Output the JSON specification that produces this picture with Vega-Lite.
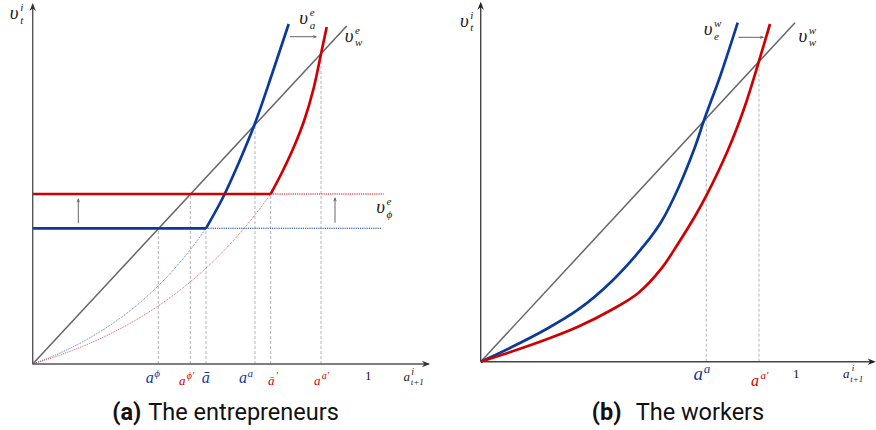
{
"$schema": "https://vega.github.io/schema/vega-lite/v6.json",
"padding": 0,
"spacing": 0,
"background": "white",
"config": {"view": {"stroke": null}},
"data": {"values": [
{"p":"a","k":"diag","id":"w","s":"neutral","x":0,"y":0},
{"p":"a","k":"diag","id":"w","s":"neutral","x":314,"y":338},
{"p":"a","k":"val","id":"hi","s":"initial","x":0,"y":135.7},
{"p":"a","k":"val","id":"hi","s":"initial","x":173.3,"y":135.7},
{"p":"a","k":"val","id":"ci","s":"initial","x":173.3,"y":135.7},
{"p":"a","k":"val","id":"ci","s":"initial","x":190,"y":166},
{"p":"a","k":"val","id":"ci","s":"initial","x":206,"y":201},
{"p":"a","k":"val","id":"ci","s":"initial","x":222.3,"y":240.7},
{"p":"a","k":"val","id":"ci","s":"initial","x":239,"y":289},
{"p":"a","k":"val","id":"ci","s":"initial","x":256,"y":340},
{"p":"a","k":"val","id":"hs","s":"shifted","x":0,"y":170},
{"p":"a","k":"val","id":"hs","s":"shifted","x":238,"y":170},
{"p":"a","k":"val","id":"cs","s":"shifted","x":238,"y":170},
{"p":"a","k":"val","id":"cs","s":"shifted","x":250,"y":193},
{"p":"a","k":"val","id":"cs","s":"shifted","x":262,"y":219},
{"p":"a","k":"val","id":"cs","s":"shifted","x":272,"y":245},
{"p":"a","k":"val","id":"cs","s":"shifted","x":281,"y":276},
{"p":"a","k":"val","id":"cs","s":"shifted","x":288.3,"y":310},
{"p":"a","k":"val","id":"cs","s":"shifted","x":294,"y":337},
{"p":"a","k":"latent","id":"li","s":"initial","x":0,"y":0},
{"p":"a","k":"latent","id":"li","s":"initial","x":20,"y":7.8},
{"p":"a","k":"latent","id":"li","s":"initial","x":40,"y":17},
{"p":"a","k":"latent","id":"li","s":"initial","x":60,"y":27.9},
{"p":"a","k":"latent","id":"li","s":"initial","x":80,"y":40.5},
{"p":"a","k":"latent","id":"li","s":"initial","x":100,"y":55.4},
{"p":"a","k":"latent","id":"li","s":"initial","x":120,"y":72.9},
{"p":"a","k":"latent","id":"li","s":"initial","x":140,"y":93.3},
{"p":"a","k":"latent","id":"li","s":"initial","x":160,"y":117.4},
{"p":"a","k":"latent","id":"li","s":"initial","x":173.3,"y":135.7},
{"p":"a","k":"latent","id":"ls","s":"shifted","x":0,"y":0},
{"p":"a","k":"latent","id":"ls","s":"shifted","x":20,"y":6.4},
{"p":"a","k":"latent","id":"ls","s":"shifted","x":40,"y":13.7},
{"p":"a","k":"latent","id":"ls","s":"shifted","x":60,"y":21.9},
{"p":"a","k":"latent","id":"ls","s":"shifted","x":80,"y":31.4},
{"p":"a","k":"latent","id":"ls","s":"shifted","x":100,"y":42.1},
{"p":"a","k":"latent","id":"ls","s":"shifted","x":120,"y":54.4},
{"p":"a","k":"latent","id":"ls","s":"shifted","x":140,"y":68.3},
{"p":"a","k":"latent","id":"ls","s":"shifted","x":160,"y":84.1},
{"p":"a","k":"latent","id":"ls","s":"shifted","x":180,"y":102.2},
{"p":"a","k":"latent","id":"ls","s":"shifted","x":200,"y":122.8},
{"p":"a","k":"latent","id":"ls","s":"shifted","x":220,"y":146.2},
{"p":"a","k":"latent","id":"ls","s":"shifted","x":238,"y":170},
{"p":"a","k":"ext","s":"initial","x":173.3,"x2":349,"y":135.7,"y2":135.7},
{"p":"a","k":"ext","s":"shifted","x":238,"x2":351,"y":170,"y2":170},
{"p":"a","k":"guide","x":125.6,"x2":125.6,"y":0,"y2":135.2},
{"p":"a","k":"guide","x":157.6,"x2":157.6,"y":0,"y2":169.6},
{"p":"a","k":"guide","x":173.3,"x2":173.3,"y":0,"y2":135.7},
{"p":"a","k":"guide","x":222.3,"x2":222.3,"y":0,"y2":240.7},
{"p":"a","k":"guide","x":238,"x2":238,"y":0,"y2":170},
{"p":"a","k":"guide","x":288.3,"x2":288.3,"y":0,"y2":310},
{"p":"a","k":"axis","x":0,"x2":396,"y":0,"y2":0},
{"p":"a","k":"axis","x":0,"x2":0,"y":0,"y2":358},
{"p":"a","k":"axhead","dir":"right","x":397.3,"y":0},
{"p":"a","k":"axhead","dir":"up","x":0,"y":361},
{"p":"a","k":"arrow","x":45.6,"x2":45.6,"y":140.7,"y2":165},
{"p":"a","k":"arrow","x":302.3,"x2":302.3,"y":141.3,"y2":166},
{"p":"a","k":"arrow","x":257.3,"x2":283.5,"y":327.3,"y2":327.3},
{"p":"a","k":"arhead","dir":"up","x":45.6,"y":166},
{"p":"a","k":"arhead","dir":"up","x":302.3,"y":167},
{"p":"a","k":"arhead","dir":"right","x":284.5,"y":327.3},
{"p":"a","k":"tick","s":"initial","base":"a","sup":"ϕ","x":117,"y":-19.3},
{"p":"a","k":"tick","s":"shifted","base":"a","sup":"ϕ′","x":149.6,"y":-21},
{"p":"a","k":"tick","s":"initial","base":"ā","x":173,"y":-18.7},
{"p":"a","k":"tick","s":"initial","base":"a","sup":"a","x":210.3,"y":-19.3},
{"p":"a","k":"tick","s":"shifted","base":"ā","sup":"′","x":238.5,"y":-21},
{"p":"a","k":"tick","s":"shifted","base":"a","sup":"a′","x":284.5,"y":-21},
{"p":"a","k":"tick","s":"neutral","base":"a","sup":"i","sub":"t+1","x":374,"y":-17},
{"p":"a","k":"num","s":"neutral","base":"1","x":335.5,"y":-16},
{"p":"a","k":"curve","s":"neutral","base":"υ","sup":"i","sub":"t","x":-18.5,"y":344.7},
{"p":"a","k":"curve","s":"neutral","base":"υ","sup":"e","sub":"a","x":271,"y":340},
{"p":"a","k":"curve","s":"neutral","base":"υ","sup":"e","sub":"w","x":316.3,"y":322.3},
{"p":"a","k":"curve","s":"neutral","base":"υ","sup":"e","sub":"ϕ","x":347.8,"y":150.7},
{"p":"a","k":"title","part":"num","text":"(a)","x":94,"y":-56},
{"p":"a","k":"title","part":"txt","text":"The entrepreneurs","x":115.6,"y":-56},

{"p":"b","k":"diag","id":"w","s":"neutral","x":0,"y":0},
{"p":"b","k":"diag","id":"w","s":"neutral","x":314.3,"y":339},
{"p":"b","k":"val","id":"ci","s":"initial","x":0,"y":0},
{"p":"b","k":"val","id":"ci","s":"initial","x":30.6,"y":14.4},
{"p":"b","k":"val","id":"ci","s":"initial","x":64,"y":31.7},
{"p":"b","k":"val","id":"ci","s":"initial","x":97.3,"y":52},
{"p":"b","k":"val","id":"ci","s":"initial","x":130.6,"y":80},
{"p":"b","k":"val","id":"ci","s":"initial","x":164,"y":117},
{"p":"b","k":"val","id":"ci","s":"initial","x":180.6,"y":140},
{"p":"b","k":"val","id":"ci","s":"initial","x":197.3,"y":173},
{"p":"b","k":"val","id":"ci","s":"initial","x":214,"y":214},
{"p":"b","k":"val","id":"ci","s":"initial","x":224,"y":243.4},
{"p":"b","k":"val","id":"ci","s":"initial","x":240,"y":287},
{"p":"b","k":"val","id":"ci","s":"initial","x":257,"y":339},
{"p":"b","k":"val","id":"cs","s":"shifted","x":0,"y":0},
{"p":"b","k":"val","id":"cs","s":"shifted","x":30.6,"y":10},
{"p":"b","k":"val","id":"cs","s":"shifted","x":64,"y":21.7},
{"p":"b","k":"val","id":"cs","s":"shifted","x":97.3,"y":35},
{"p":"b","k":"val","id":"cs","s":"shifted","x":130.6,"y":51.7},
{"p":"b","k":"val","id":"cs","s":"shifted","x":157.3,"y":68.4},
{"p":"b","k":"val","id":"cs","s":"shifted","x":180.6,"y":93},
{"p":"b","k":"val","id":"cs","s":"shifted","x":197.3,"y":118},
{"p":"b","k":"val","id":"cs","s":"shifted","x":214,"y":145},
{"p":"b","k":"val","id":"cs","s":"shifted","x":225.6,"y":166},
{"p":"b","k":"val","id":"cs","s":"shifted","x":247.3,"y":211.7},
{"p":"b","k":"val","id":"cs","s":"shifted","x":264,"y":255},
{"p":"b","k":"val","id":"cs","s":"shifted","x":278.6,"y":301.7},
{"p":"b","k":"val","id":"cs","s":"shifted","x":289.3,"y":337.7},
{"p":"b","k":"guide","x":225.6,"x2":225.6,"y":0,"y2":243.4},
{"p":"b","k":"guide","x":278.3,"x2":278.3,"y":0,"y2":300.2},
{"p":"b","k":"axis","x":0,"x2":393,"y":0,"y2":0},
{"p":"b","k":"axis","x":0,"x2":0,"y":0,"y2":357},
{"p":"b","k":"axhead","dir":"right","x":395,"y":0},
{"p":"b","k":"axhead","dir":"up","x":0,"y":360},
{"p":"b","k":"arrow","x":257.6,"x2":282.5,"y":324.4,"y2":324.4},
{"p":"b","k":"arhead","dir":"right","x":283.5,"y":324.4},
{"p":"b","k":"tick","s":"initial","base":"a","sup":"a","x":217.6,"y":-18.3},
{"p":"b","k":"tick","s":"shifted","base":"a","sup":"a′","x":274.3,"y":-24.3},
{"p":"b","k":"tick","s":"neutral","base":"a","sup":"i","sub":"t+1","x":365.6,"y":-16.6},
{"p":"b","k":"num","s":"neutral","base":"1","x":315.6,"y":-16.6},
{"p":"b","k":"curve","s":"neutral","base":"υ","sup":"i","sub":"t","x":-16.4,"y":335},
{"p":"b","k":"curve","s":"neutral","base":"υ","sup":"w","sub":"e","x":227.3,"y":326.7},
{"p":"b","k":"curve","s":"neutral","base":"υ","sup":"w","sub":"w","x":322.1,"y":320},
{"p":"b","k":"title","part":"num","text":"(b)","x":126,"y":-58.3},
{"p":"b","k":"title","part":"txt","text":"The workers","x":155,"y":-58.3}
]},
"hconcat": [
{
"width": 440, "height": 430,
"transform": [{"filter": "datum.p === 'a'"}],
"encoding": {
  "x": {"field": "x", "type": "quantitative", "axis": null, "scale": {"domain": [-32.7, 407.3], "nice": false, "zero": false}},
  "y": {"field": "y", "type": "quantitative", "axis": null, "scale": {"domain": [-66, 364], "nice": false, "zero": false}}
},
"layer": [
  {"transform": [{"filter": "datum.k === 'guide'"}], "mark": {"type": "rule", "color": "#b5b5b5", "strokeWidth": 1, "strokeDash": [3, 2], "clip": true}, "encoding": {"y2": {"field": "y2"}}},
  {"transform": [{"filter": "datum.k === 'ext'"}], "mark": {"type": "rule", "strokeWidth": 1.1, "strokeDash": [1.2, 1], "clip": true}, "encoding": {"x2": {"field": "x2"}, "y2": {"field": "y2"}, "color": {"field": "s", "type": "nominal", "scale": {"domain": ["initial", "shifted", "neutral"], "range": ["#0b3b9a", "#d00000", "#1a1a1a"]}, "legend": null}}},
  {"transform": [{"filter": "datum.k === 'latent'"}], "mark": {"type": "line", "strokeWidth": 1, "strokeDash": [1, 1], "opacity": 0.65, "interpolate": "catmull-rom", "clip": true}, "encoding": {"detail": {"field": "id"}, "color": {"field": "s", "type": "nominal", "legend": null}}},
  {"transform": [{"filter": "datum.k === 'diag'"}], "mark": {"type": "line", "color": "#666666", "strokeWidth": 1.5, "clip": true}, "encoding": {"detail": {"field": "id"}}},
  {"transform": [{"filter": "datum.k === 'val'"}], "mark": {"type": "line", "strokeWidth": 2.7, "interpolate": "catmull-rom", "clip": true}, "encoding": {"detail": {"field": "id"}, "color": {"field": "s", "type": "nominal", "legend": null}}},
  {"transform": [{"filter": "datum.k === 'axis'"}], "mark": {"type": "rule", "color": "#555555", "strokeWidth": 1.4, "clip": true}, "encoding": {"x2": {"field": "x2"}, "y2": {"field": "y2"}}},
  {"transform": [{"filter": "datum.k === 'axhead'"}], "mark": {"type": "point", "filled": true, "color": "#333333", "opacity": 1, "size": 64, "clip": true}, "encoding": {"shape": {"condition": {"test": "datum.dir === 'up'", "value": "M0,0L-0.8,2L0,1.4L0.8,2Z"}, "value": "M0,0L-2,-0.8L-1.4,0L-2,0.8Z"}}},
  {"transform": [{"filter": "datum.k === 'arrow'"}], "mark": {"type": "rule", "color": "#666666", "strokeWidth": 1, "clip": true}, "encoding": {"x2": {"field": "x2"}, "y2": {"field": "y2"}}},
  {"transform": [{"filter": "datum.k === 'arhead'"}], "mark": {"type": "point", "filled": true, "color": "#666666", "opacity": 1, "size": 20, "clip": true}, "encoding": {"shape": {"condition": {"test": "datum.dir === 'up'", "value": "M0,0L-0.8,2L0,1.4L0.8,2Z"}, "value": "M0,0L-2,-0.8L-1.4,0L-2,0.8Z"}}},
  {"transform": [{"filter": "datum.k === 'tick'"}], "mark": {"type": "text", "font": "Liberation Serif", "fontStyle": "italic", "align": "center", "baseline": "alphabetic", "clip": true}, "encoding": {"text": {"field": "base"}, "color": {"field": "s", "type": "nominal", "legend": null}, "size": {"condition": {"test": "datum.s === 'initial'", "value": 16}, "value": 13}}},
  {"transform": [{"filter": "datum.k === 'tick' && datum.sup"}], "mark": {"type": "text", "font": "Liberation Serif", "fontStyle": "italic", "align": "left", "baseline": "alphabetic", "dx": 4.5, "dy": -6.5, "clip": true}, "encoding": {"text": {"field": "sup"}, "color": {"field": "s", "type": "nominal", "legend": null}, "size": {"condition": {"test": "datum.s === 'initial'", "value": 11}, "value": 10}}},
  {"transform": [{"filter": "datum.k === 'tick' && datum.sub"}], "mark": {"type": "text", "font": "Liberation Serif", "fontStyle": "italic", "align": "left", "baseline": "alphabetic", "dx": 4, "dy": 4, "fontSize": 9, "clip": true}, "encoding": {"text": {"field": "sub"}, "color": {"field": "s", "type": "nominal", "legend": null}}},
  {"transform": [{"filter": "datum.k === 'num'"}], "mark": {"type": "text", "font": "Liberation Serif", "align": "center", "baseline": "alphabetic", "fontSize": 13, "clip": true}, "encoding": {"text": {"field": "base"}, "color": {"field": "s", "type": "nominal", "legend": null}}},
  {"transform": [{"filter": "datum.k === 'curve'"}], "mark": {"type": "text", "font": "Liberation Serif", "fontStyle": "italic", "align": "center", "baseline": "alphabetic", "fontSize": 19, "clip": true}, "encoding": {"text": {"field": "base"}, "color": {"field": "s", "type": "nominal", "legend": null}}},
  {"transform": [{"filter": "datum.k === 'curve'"}], "mark": {"type": "text", "font": "Liberation Serif", "fontStyle": "italic", "align": "left", "baseline": "alphabetic", "fontSize": 11, "dx": 6, "dy": -8, "clip": true}, "encoding": {"text": {"field": "sup"}, "color": {"field": "s", "type": "nominal", "legend": null}}},
  {"transform": [{"filter": "datum.k === 'curve'"}], "mark": {"type": "text", "font": "Liberation Serif", "fontStyle": "italic", "align": "left", "baseline": "alphabetic", "fontSize": 11, "dx": 6, "dy": 4.5, "clip": true}, "encoding": {"text": {"field": "sub"}, "color": {"field": "s", "type": "nominal", "legend": null}}},
  {"transform": [{"filter": "datum.k === 'title' && datum.part === 'num'"}], "mark": {"type": "text", "font": "Roboto", "fontWeight": "bold", "fontSize": 23.5, "align": "center", "baseline": "alphabetic", "color": "#111111", "clip": true}, "encoding": {"text": {"field": "text"}}},
  {"transform": [{"filter": "datum.k === 'title' && datum.part === 'txt'"}], "mark": {"type": "text", "font": "Roboto", "fontSize": 23.5, "align": "left", "baseline": "alphabetic", "color": "#111111", "clip": true}, "encoding": {"text": {"field": "text"}}}
]
},
{
"width": 436, "height": 430,
"transform": [{"filter": "datum.p === 'b'"}],
"encoding": {
  "x": {"field": "x", "type": "quantitative", "axis": null, "scale": {"domain": [-40.7, 395.3], "nice": false, "zero": false}},
  "y": {"field": "y", "type": "quantitative", "axis": null, "scale": {"domain": [-68.3, 361.7], "nice": false, "zero": false}}
},
"layer": [
  {"transform": [{"filter": "datum.k === 'guide'"}], "mark": {"type": "rule", "color": "#b5b5b5", "strokeWidth": 1, "strokeDash": [3, 2], "clip": true}, "encoding": {"y2": {"field": "y2"}}},
  {"transform": [{"filter": "datum.k === 'diag'"}], "mark": {"type": "line", "color": "#666666", "strokeWidth": 1.5, "clip": true}, "encoding": {"detail": {"field": "id"}}},
  {"transform": [{"filter": "datum.k === 'val'"}], "mark": {"type": "line", "strokeWidth": 2.7, "interpolate": "catmull-rom", "clip": true}, "encoding": {"detail": {"field": "id"}, "color": {"field": "s", "type": "nominal", "legend": null}}},
  {"transform": [{"filter": "datum.k === 'axis'"}], "mark": {"type": "rule", "color": "#444444", "strokeWidth": 1.4, "clip": true}, "encoding": {"x2": {"field": "x2"}, "y2": {"field": "y2"}}},
  {"transform": [{"filter": "datum.k === 'axhead'"}], "mark": {"type": "point", "filled": true, "color": "#222222", "opacity": 1, "size": 64, "clip": true}, "encoding": {"shape": {"condition": {"test": "datum.dir === 'up'", "value": "M0,0L-0.8,2L0,1.4L0.8,2Z"}, "value": "M0,0L-2,-0.8L-1.4,0L-2,0.8Z"}}},
  {"transform": [{"filter": "datum.k === 'arrow'"}], "mark": {"type": "rule", "color": "#666666", "strokeWidth": 1, "clip": true}, "encoding": {"x2": {"field": "x2"}, "y2": {"field": "y2"}}},
  {"transform": [{"filter": "datum.k === 'arhead'"}], "mark": {"type": "point", "filled": true, "color": "#666666", "opacity": 1, "size": 20, "clip": true}, "encoding": {"shape": {"condition": {"test": "datum.dir === 'up'", "value": "M0,0L-0.8,2L0,1.4L0.8,2Z"}, "value": "M0,0L-2,-0.8L-1.4,0L-2,0.8Z"}}},
  {"transform": [{"filter": "datum.k === 'tick'"}], "mark": {"type": "text", "font": "Liberation Serif", "fontStyle": "italic", "align": "center", "baseline": "alphabetic", "clip": true}, "encoding": {"text": {"field": "base"}, "color": {"field": "s", "type": "nominal", "legend": null}, "size": {"condition": [{"test": "datum.s === 'initial'", "value": 19}, {"test": "datum.s === 'shifted'", "value": 16}], "value": 13}}},
  {"transform": [{"filter": "datum.k === 'tick' && datum.sup"}], "mark": {"type": "text", "font": "Liberation Serif", "fontStyle": "italic", "align": "left", "baseline": "alphabetic", "dx": 5.5, "dy": -7.5, "clip": true}, "encoding": {"text": {"field": "sup"}, "color": {"field": "s", "type": "nominal", "legend": null}, "size": {"condition": [{"test": "datum.s === 'initial'", "value": 13}, {"test": "datum.s === 'shifted'", "value": 11}], "value": 9}}},
  {"transform": [{"filter": "datum.k === 'tick' && datum.sub"}], "mark": {"type": "text", "font": "Liberation Serif", "fontStyle": "italic", "align": "left", "baseline": "alphabetic", "dx": 4, "dy": 4, "fontSize": 9, "clip": true}, "encoding": {"text": {"field": "sub"}, "color": {"field": "s", "type": "nominal", "legend": null}}},
  {"transform": [{"filter": "datum.k === 'num'"}], "mark": {"type": "text", "font": "Liberation Serif", "align": "center", "baseline": "alphabetic", "fontSize": 13, "clip": true}, "encoding": {"text": {"field": "base"}, "color": {"field": "s", "type": "nominal", "legend": null}}},
  {"transform": [{"filter": "datum.k === 'curve'"}], "mark": {"type": "text", "font": "Liberation Serif", "fontStyle": "italic", "align": "center", "baseline": "alphabetic", "fontSize": 19, "clip": true}, "encoding": {"text": {"field": "base"}, "color": {"field": "s", "type": "nominal", "legend": null}}},
  {"transform": [{"filter": "datum.k === 'curve'"}], "mark": {"type": "text", "font": "Liberation Serif", "fontStyle": "italic", "align": "left", "baseline": "alphabetic", "fontSize": 11, "dx": 6, "dy": -8, "clip": true}, "encoding": {"text": {"field": "sup"}, "color": {"field": "s", "type": "nominal", "legend": null}}},
  {"transform": [{"filter": "datum.k === 'curve'"}], "mark": {"type": "text", "font": "Liberation Serif", "fontStyle": "italic", "align": "left", "baseline": "alphabetic", "fontSize": 11, "dx": 6, "dy": 4.5, "clip": true}, "encoding": {"text": {"field": "sub"}, "color": {"field": "s", "type": "nominal", "legend": null}}},
  {"transform": [{"filter": "datum.k === 'title' && datum.part === 'num'"}], "mark": {"type": "text", "font": "Roboto", "fontWeight": "bold", "fontSize": 23.5, "align": "center", "baseline": "alphabetic", "color": "#111111", "clip": true}, "encoding": {"text": {"field": "text"}}},
  {"transform": [{"filter": "datum.k === 'title' && datum.part === 'txt'"}], "mark": {"type": "text", "font": "Roboto", "fontSize": 23.5, "align": "left", "baseline": "alphabetic", "color": "#111111", "clip": true}, "encoding": {"text": {"field": "text"}}}
]
}
]
}
